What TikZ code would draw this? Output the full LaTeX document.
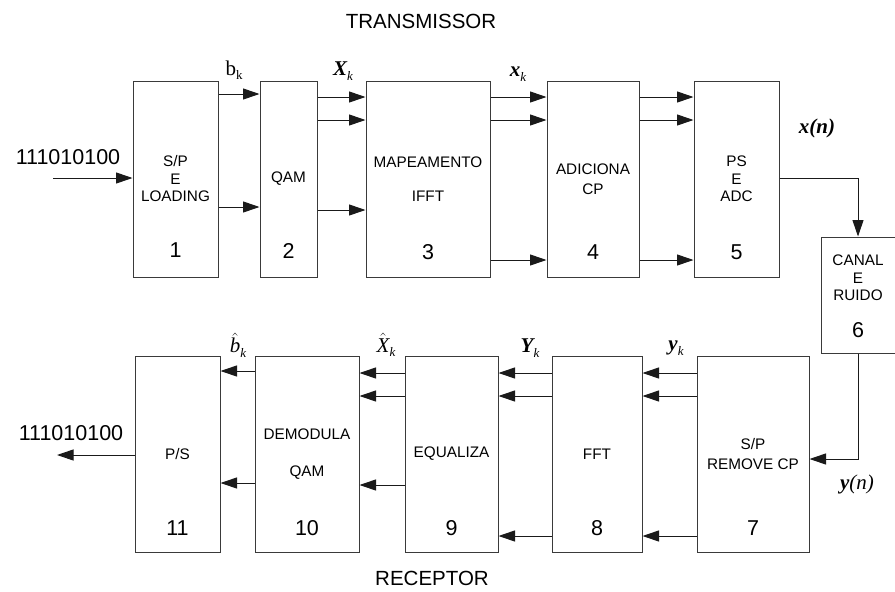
\documentclass[tikz,border=0pt]{standalone}
\usepackage{fontspec}
\setmainfont{Liberation Sans}
\newfontfamily\tnr{Liberation Serif}
\usetikzlibrary{arrows.meta,positioning,calc}
\definecolor{ink}{HTML}{3A3A3A}
\definecolor{wire}{HTML}{1A1A1A}
\newcommand{\sbk}[1]{\raisebox{-4.5pt}{\fontsize{13}{13}\selectfont\mdseries\itshape #1}}
\tikzset{
  blk/.style={draw=ink,line width=1pt,align=center,inner sep=0pt,
              font=\fontsize{15.3}{17.5}\selectfont},
  num/.style={font=\fontsize{21.5}{24}\selectfont,inner sep=0pt},
  ttl/.style={font=\fontsize{20.5}{24}\selectfont,inner sep=0pt},
  sig/.style={font=\fontsize{21}{24}\selectfont\tnr,inner sep=0pt},
  arr/.style={-{Triangle[length=16.5pt,width=11pt]},line width=1pt,draw=wire}
}
\begin{document}
\begin{tikzpicture}[x=1pt,y=-1pt]
    \path[use as bounding box] (0,0) rectangle (895,592);

    % transmissor
    \node[ttl] (tx) at (421,21) {TRANSMISSOR};
    \node[blk,minimum width=85pt,minimum height=196pt] (b1) at (175.5,179)
      {S/P\\E\\LOADING};
    \node[blk,minimum width=57pt,minimum height=196pt] (b2) at (288.5,179)
      {QAM};
    \node[blk,minimum width=124pt,minimum height=196pt] (b3) at (428,179)
      {MAPEAMENTO\\[17pt]IFFT};
    \node[blk,minimum width=92pt,minimum height=196pt] (b4) at (593,179)
      {ADICIONA\\[3pt]CP};
    \node[blk,minimum width=85pt,minimum height=196pt] (b5) at (736.5,179)
      {PS\\E\\ADC};
    \node[num] (n1) at ([yshift=27pt]b1.south) {1};
    \node[num] (n2) at ([yshift=27pt]b2.south) {2};
    \node[num] (n3) at ([yshift=25pt]b3.south) {3};
    \node[num] (n4) at ([yshift=25pt]b4.south) {4};
    \node[num] (n5) at ([yshift=25pt]b5.south) {5};

    % canal
    \node[blk,minimum width=74pt,minimum height=116pt] (b6) at (858,295) {};
    \node[blk,draw=none] (t6) at ([yshift=17pt]b6.center) {CANAL\\E\\RUIDO};
    \node[num] (n6) at ([yshift=23pt]b6.south) {6};

    % receptor
    \node[blk,minimum width=112pt,minimum height=196pt] (b7) at (753,454)
      {S/P\\[3pt]REMOVE CP};
    \node[blk,minimum width=90pt,minimum height=196pt] (b8) at (597,454)
      {FFT};
    \node[blk,minimum width=93pt,minimum height=196pt] (b9) at (451.5,454)
      {EQUALIZA};
    \node[blk,minimum width=104pt,minimum height=196pt] (b10) at (307,454)
      {DEMODULA\\[19pt]QAM};
    \node[blk,minimum width=85pt,minimum height=196pt] (b11) at (177.5,454)
      {P/S};
    \node[num] (n7) at ([yshift=24pt]b7.south) {7};
    \node[num] (n8) at ([yshift=24pt]b8.south) {8};
    \node[num] (n9) at ([yshift=24pt]b9.south) {9};
    \node[num] (n10) at ([yshift=24pt]b10.south) {10};
    \node[num] (n11) at ([yshift=24pt]b11.south) {11};
    \node[ttl] (rx) at (432,578) {RECEPTOR};

    % bits in / out
    \node[num] (bin) at (68,157) {111010100};
    \node[num] (bout) at (71,433) {111010100};
    \coordinate (in) at (53,178);
    \coordinate (out) at (57,455);

    % sinais
    \node[sig] (lbk) at (234,70) {b\sbk{\upshape k}};
    \node[sig] (lXk) at (343,71) {\bfseries\itshape X\sbk{k}};
    \node[sig] (lxk) at (518,74) {\bfseries\itshape x\sbk{k}};
    \node[sig] (lxn) at (817,128) {\bfseries\itshape x(n)};
    \node[sig] (lhb) at (238,345)
      {$\hat{\mbox{\tnr\itshape b}}$\sbk{k}};
    \node[sig] (lhX) at (386,345)
      {$\hat{\mbox{\tnr\itshape X}}$\sbk{k}};
    \node[sig] (lYk) at (530,348) {\bfseries\itshape Y\sbk{k}};
    \node[sig] (lyk) at (676,348) {\bfseries\itshape y\sbk{k}};
    \node[sig] (lyn) at (857,484) {\bfseries\itshape y\mdseries(n)};

    % ligacoes transmissor
    \draw[arr] (in) -- (b1.west |- in);
    \draw[arr] (b1.east |- 0,94) -- (b2.west |- 0,94);
    \draw[arr] (b1.east |- 0,207) -- (b2.west |- 0,207);
    \foreach \a/\b in {b2/b3,b3/b4,b4/b5}{
      \draw[arr] (\a.east |- 0,97) -- (\b.west |- 0,97);
      \draw[arr] (\a.east |- 0,120) -- (\b.west |- 0,120);
    }
    \draw[arr] (b2.east |- 0,210) -- (b3.west |- 0,210);
    \draw[arr] (b3.east |- 0,260) -- (b4.west |- 0,260);
    \draw[arr] (b4.east |- 0,260) -- (b5.west |- 0,260);
    \draw[arr] (b5.east |- 0,178) -| (b6.north);

    % ligacoes receptor
    \draw[arr] (b6.south) |- (b7.east |- 0,459);
    \foreach \a/\b in {b7/b8,b8/b9,b9/b10}{
      \draw[arr] (\a.west |- 0,373) -- (\b.east |- 0,373);
      \draw[arr] (\a.west |- 0,396) -- (\b.east |- 0,396);
    }
    \draw[arr] (b7.west |- 0,536) -- (b8.east |- 0,536);
    \draw[arr] (b8.west |- 0,536) -- (b9.east |- 0,536);
    \draw[arr] (b9.west |- 0,485) -- (b10.east |- 0,485);
    \draw[arr] (b10.west |- 0,371) -- (b11.east |- 0,371);
    \draw[arr] (b10.west |- 0,483) -- (b11.east |- 0,483);
    \draw[arr] (b11.west |- out) -- (out);
  \end{tikzpicture}
\end{document}
